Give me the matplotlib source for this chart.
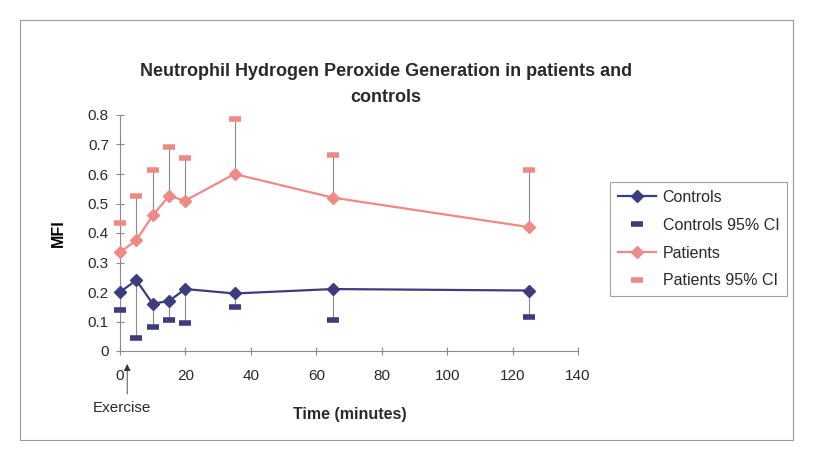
import numpy as np
import matplotlib
matplotlib.use('Agg')
from matplotlib import pyplot as plt
from matplotlib.patches import Rectangle

plt.rcParams['font.family'] = ['Liberation Sans', 'DejaVu Sans']
plt.rcParams['text.color'] = '#2a2a2a'

times = [0, 5, 10, 15, 20, 35, 65, 125]
controls = [0.20, 0.24, 0.16, 0.17, 0.21, 0.195, 0.21, 0.205]
controls_ci = [0.14, 0.045, 0.08, 0.105, 0.095, 0.15, 0.105, 0.115]
patients = [0.335, 0.375, 0.46, 0.525, 0.51, 0.60, 0.52, 0.42]
patients_ci = [0.435, 0.525, 0.615, 0.69, 0.655, 0.785, 0.665, 0.615]

navy = '#3c3c7e'
pink = '#ee8a86'

fig = plt.figure(figsize=(8.36, 4.5), dpi=100)
fig.patches.append(Rectangle((20/836, 10/450), 773/836, 420/450, transform=fig.transFigure,
                             fill=False, edgecolor='#9a9a9a', linewidth=0.8))
ax = fig.add_axes([120/836, 99/450, 458/836, 236/450])

# error lines from mean to CI
for t, m, c in zip(times, controls, controls_ci):
    ax.plot([t, t], [m, c], color='#8a8a8a', linewidth=0.8, zorder=1)
for t, m, c in zip(times, patients, patients_ci):
    ax.plot([t, t], [m, c], color='#8a8a8a', linewidth=0.8, zorder=1)

ax.plot(times, controls, color=navy, marker='D', markersize=6.5, linewidth=1.6, label='Controls',
        zorder=3, clip_on=False)
ax.plot(times, controls_ci, linestyle='none', marker='_', color=navy, markersize=9, markeredgewidth=4,
        label='Controls 95% CI', zorder=3, clip_on=False)
ax.plot(times, patients, color=pink, marker='D', markersize=6.5, linewidth=1.6, label='Patients',
        zorder=3, clip_on=False)
ax.plot(times, patients_ci, linestyle='none', marker='_', color=pink, markersize=9, markeredgewidth=4,
        label='Patients 95% CI', zorder=3, clip_on=False)

ax.set_xlim(0, 140)
ax.set_ylim(0, 0.8)
ax.set_xticks(range(0, 141, 20))
ax.set_yticks(np.arange(0, 0.81, 0.1))
ax.set_yticklabels(['0', '0.1', '0.2', '0.3', '0.4', '0.5', '0.6', '0.7', '0.8'])
for s in ['top', 'right']:
    ax.spines[s].set_visible(False)
for s in ['left', 'bottom']:
    ax.spines[s].set_color('#8a8a8a')
    ax.spines[s].set_linewidth(0.8)
ax.tick_params(direction='inout', length=6, color='#8a8a8a', labelsize=11, labelcolor='#2a2a2a')
ax.tick_params(axis='x', pad=10)
ax.tick_params(axis='y', pad=5)

fig.text(386/836, 1 - 72/450, 'Neutrophil Hydrogen Peroxide Generation in patients and',
         fontsize=13, fontweight='bold', ha='center', va='center')
fig.text(386/836, 1 - 97/450, 'controls', fontsize=13, fontweight='bold', ha='center', va='center')
ax.set_ylabel('MFI', fontsize=11.5, fontweight='bold', labelpad=16)
fig.text(350/836, 1 - 414/450, 'Time (minutes)', fontsize=11.5, fontweight='bold', ha='center', va='center')

ax.annotate('', xy=(2.2, -0.035), xytext=(2.2, -0.155), xycoords='data', textcoords='data',
            arrowprops=dict(arrowstyle='-|>', color='#333333', lw=0.6, mutation_scale=10),
            annotation_clip=False)
fig.text(122/836, 1 - 408/450, 'Exercise', fontsize=11, ha='center', va='center')

leg = fig.legend(loc='upper left', bbox_to_anchor=(610/836, 1 - 182/450), frameon=True,
                 fancybox=False, edgecolor='#8a8a8a', fontsize=11.5, handlelength=2.4,
                 borderpad=0.5, labelspacing=0.8, handletextpad=0.4, borderaxespad=0)
leg.get_frame().set_linewidth(0.8)

fig.savefig('out.png', dpi=100)
